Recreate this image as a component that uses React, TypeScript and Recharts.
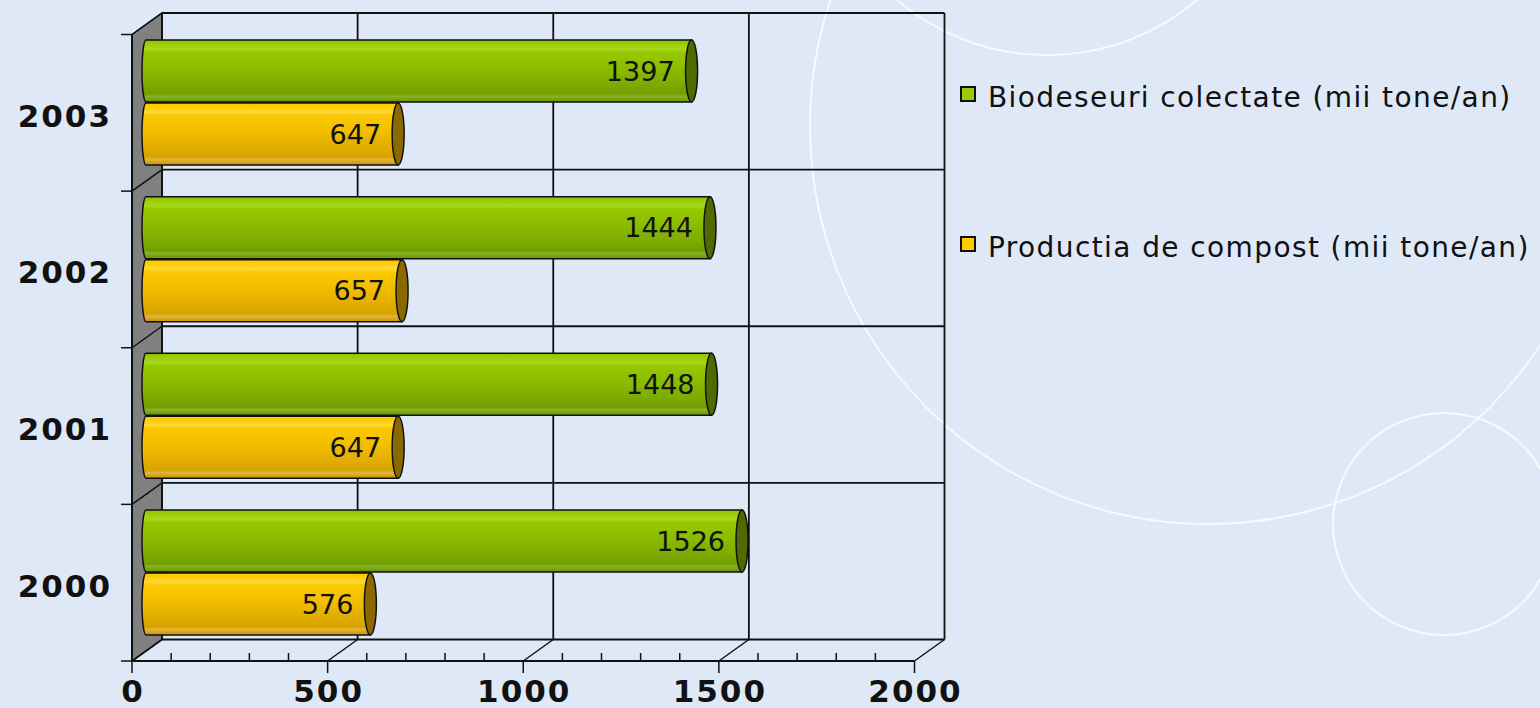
import { Bar, BarChart, CartesianGrid, LabelList, Legend, XAxis, YAxis } from 'recharts';

const years = ['2003', '2002', '2001', '2000'];
const biodeseuri = [1397, 1444, 1448, 1526];
const compost = [647, 657, 647, 576];
const seriesNames = ['Biodeseuri colectate (mii tone/an)', 'Productia de compost (mii tone/an)'];
const seriesColors = ['#99CC00', '#FFCC00'];
const xTicks = [0, 100, 200, 300, 400, 500, 600, 700, 800, 900, 1000, 1100, 1200, 1300, 1400, 1500, 1600, 1700, 1800, 1900, 2000];
const majorTicks = [0, 500, 1000, 1500, 2000];
const xMax = 2000;

const data = years.map((year, i) => ({ year, bio: biodeseuri[i], compost: compost[i] }));

// page / plot geometry (front plane of the 3d box)
const W = 1540;
const H = 708;
const LEFT = 132;
const TOP = 34.5;
const RIGHT = 914.5;
const BOTTOM = 661;
const DX = 30;
const DY = -21.5;
const BG = '#DFE8F7';
const INK = '#111';
const FONT = '"DejaVu Sans", Verdana, sans-serif';

const tones = {
  bio: {
    id: 'bio',
    cap: '#506A00',
    stops: [
      [0, '#8CC000'],
      [0.06, '#9ACD00'],
      [0.15, '#A6D81E'],
      [0.2, '#97C900'],
      [0.45, '#8CBC00'],
      [0.7, '#7EAC00'],
      [0.87, '#729F00'],
      [0.91, '#88B226'],
      [1, '#6A9400'],
    ],
  },
  compost: {
    id: 'compost',
    cap: '#8A6A00',
    stops: [
      [0, '#FFC800'],
      [0.06, '#FFCC00'],
      [0.15, '#FFD83A'],
      [0.2, '#FBC800'],
      [0.45, '#F2BF00'],
      [0.7, '#E3AE00'],
      [0.87, '#D6A200'],
      [0.91, '#E2B43C'],
      [1, '#C99500'],
    ],
  },
};

const Cylinder = ({ x, y, width, height, tone }: any) => {
  if (width == null || height == null) return null;
  const left = x + 10;
  const right = x + width + 13;
  const top = y - 10.5;
  const bottom = top + height;
  const ry = height / 2;
  const gid = `cyl-${tone.id}`;
  return (
    <g>
      <defs>
        <linearGradient id={gid} x1="0" y1="0" x2="0" y2="1">
          {tone.stops.map(([o, c]: any) => (
            <stop key={o} offset={o} stopColor={c} />
          ))}
        </linearGradient>
      </defs>
      <path
        d={`M${left + 4},${top} H${right} V${bottom} H${left + 4} A4,${ry} 0 0 1 ${left + 4},${top} Z`}
        fill={`url(#${gid})`}
        stroke={INK}
        strokeWidth={1.5}
      />
      <ellipse cx={right} cy={top + ry} rx={6} ry={ry} fill={tone.cap} stroke={INK} strokeWidth={1.5} />
    </g>
  );
};

const ValueLabel = (props: any) => {
  const vb = props.viewBox ?? props;
  const { x, y, width, height } = vb;
  return (
    <text
      x={x + width - 4}
      y={y - 10.5 + height / 2}
      dy="0.36em"
      textAnchor="end"
      fontFamily={FONT}
      fontSize={27}
      fill={INK}
    >
      {props.value}
    </text>
  );
};

const XTick = ({ x, y, payload }: any) => {
  const v = payload.value;
  if (!majorTicks.includes(v)) {
    return <line x1={x} y1={y} x2={x} y2={y - 8} stroke={INK} strokeWidth={1.5} />;
  }
  return (
    <g>
      <line x1={x} y1={y} x2={x} y2={y + 12} stroke={INK} strokeWidth={1.5} />
      <line x1={x} y1={y} x2={x + DX} y2={y + DY} stroke={INK} strokeWidth={1.5} />
      <text x={x + 1} y={y + 41} textAnchor="middle" fontFamily={FONT} fontWeight="bold" fontSize={31} letterSpacing={2} fill={INK}>
        {v}
      </text>
    </g>
  );
};

const YTick = ({ x, y, payload, index }: any) => {
  const half = payload.offset || (BOTTOM - TOP) / years.length / 2;
  const edges = [y - half];
  if (index === years.length - 1) edges.push(y + half);
  return (
    <g>
      {edges.map((b) => (
        <g key={b}>
          <line x1={x - 11} y1={b} x2={x} y2={b} stroke={INK} strokeWidth={1.5} />
          <line x1={x} y1={b} x2={x + DX} y2={b + DY} stroke={INK} strokeWidth={1.5} />
        </g>
      ))}
      <text x={x - 20} y={y + 14} textAnchor="end" fontFamily={FONT} fontWeight="bold" fontSize={31} letterSpacing={2} fill={INK}>
        {payload.value}
      </text>
    </g>
  );
};

const scaleX = (xAxis: any, offset: any, v: number) => {
  const s = xAxis?.scale;
  const r = typeof s === 'function' ? s(v) : undefined;
  return Number.isFinite(r) ? r : offset.left + (v / xMax) * offset.width;
};

const LegendContent = () => (
  <div style={{ fontFamily: FONT, fontSize: 28, letterSpacing: 1.4, color: INK }}>
    {seriesNames.map((name, i) => (
      <div
        key={name}
        style={{ display: 'flex', alignItems: 'flex-start', height: 30, lineHeight: '30px', marginBottom: i === 0 ? 120 : 0, whiteSpace: 'nowrap' }}
      >
        <span
          style={{ width: 12, height: 12, marginTop: 3, marginRight: 12, border: `2px solid ${INK}`, background: seriesColors[i], flexShrink: 0 }}
        />
        <span>{name}</span>
      </div>
    ))}
  </div>
);

const App = () => (
  <div style={{ position: 'fixed', inset: 0, background: BG, overflow: 'hidden' }}>
    <svg width={W} height={H} style={{ position: 'absolute', left: 0, top: 0 }}>
      <g fill="none" stroke="#fff" strokeWidth={2} opacity={0.75}>
        <circle cx={1208} cy={126} r={398} />
        <circle cx={1047} cy={-177} r={232} />
        <circle cx={1444} cy={524} r={111} />
      </g>
      <polygon
        points={`${LEFT},${TOP} ${LEFT + DX},${TOP + DY} ${LEFT + DX},${BOTTOM + DY} ${LEFT},${BOTTOM}`}
        fill="#808080"
        stroke={INK}
        strokeWidth={1.5}
      />
    </svg>
    <div style={{ position: 'absolute', left: 0, top: 0 }}>
      <BarChart
        width={W}
        height={H}
        data={data}
        layout="vertical"
        barGap={1}
        margin={{ top: TOP, left: LEFT - 120, right: W - RIGHT, bottom: 0 }}
      >
        <CartesianGrid
          x={LEFT + DX}
          y={TOP + DY}
          width={RIGHT - LEFT}
          height={BOTTOM - TOP}
          stroke={INK}
          strokeWidth={1.8}
          fill="none"
          verticalCoordinatesGenerator={({ xAxis, offset }: any) => majorTicks.map((v) => scaleX(xAxis, offset, v) + DX)}
          horizontalCoordinatesGenerator={({ offset }: any) =>
            [...years.map((_, i) => offset.top + (i * offset.height) / years.length), offset.top + offset.height].map((v) => v + DY)
          }
        />
        <Bar dataKey="bio" barSize={62} isAnimationActive={false} shape={(p: any) => <Cylinder {...p} tone={tones.bio} />}>
          <LabelList dataKey="bio" content={(p: any) => <ValueLabel {...p} />} />
        </Bar>
        <Bar dataKey="compost" barSize={62} isAnimationActive={false} shape={(p: any) => <Cylinder {...p} tone={tones.compost} />}>
          <LabelList dataKey="compost" content={(p: any) => <ValueLabel {...p} />} />
        </Bar>
        <XAxis
          type="number"
          domain={[0, xMax]}
          ticks={xTicks}
          interval={0}
          height={47}
          tickLine={false}
          tickSize={0}
          tickMargin={0}
          tick={(p: any) => <XTick {...p} />}
          axisLine={{ stroke: INK, strokeWidth: 2 }}
        />
        <YAxis
          type="category"
          dataKey="year"
          width={120}
          interval={0}
          tickLine={false}
          tickSize={0}
          tickMargin={0}
          tick={(p: any) => <YTick {...p} />}
          axisLine={{ stroke: INK, strokeWidth: 2 }}
        />
        <Legend
          layout="horizontal"
          verticalAlign="middle"
          align="center"
          content={() => <LegendContent />}
          wrapperStyle={{ left: 960, top: 82.5, width: 580 }}
        />
      </BarChart>
    </div>
  </div>
);

export default App;
